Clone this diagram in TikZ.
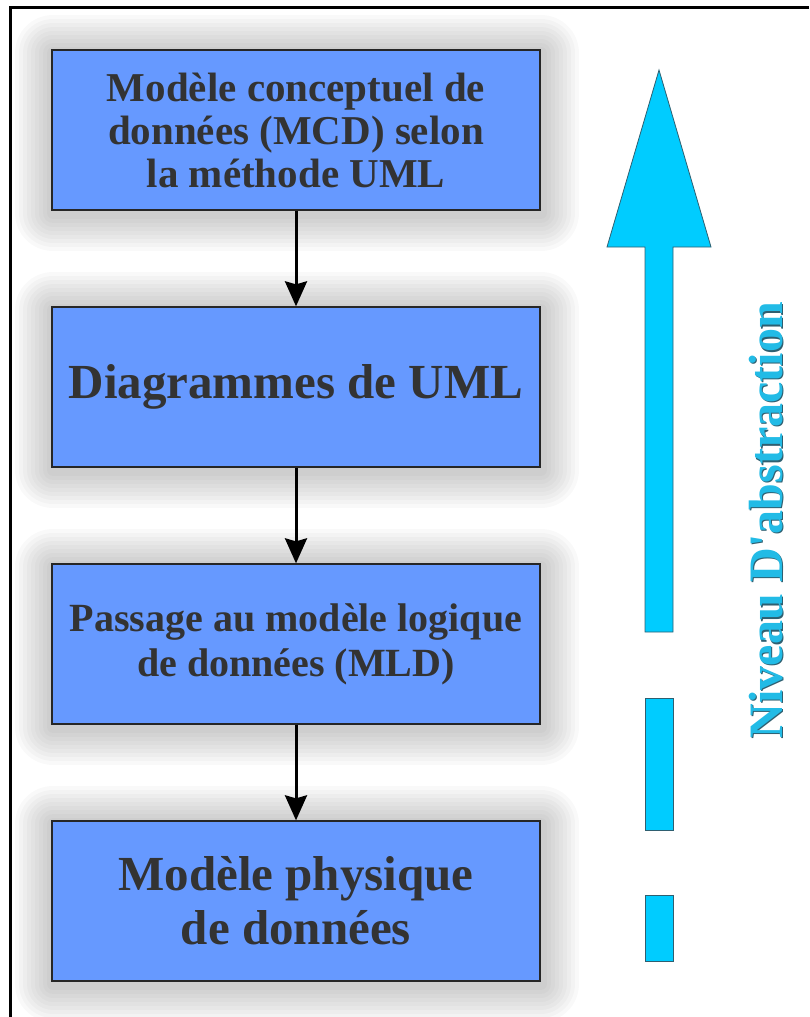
\documentclass[tikz,border=0pt]{standalone}
\usepackage{fontspec}
\setmainfont{Liberation Serif}
\usetikzlibrary{positioning,arrows.meta}
\definecolor{boxblue}{HTML}{6699FF}
\definecolor{txtgray}{HTML}{333333}
\definecolor{levelcyan}{HTML}{00CCFF}
\definecolor{leveltext}{HTML}{22BBE6}
\definecolor{levelline}{HTML}{2F5F70}
\begin{document}
\begin{tikzpicture}[x=1pt,y=-1pt,
                      halo/.style={preaction={draw=black,opacity=.022,line width=#1,line join=round,
                                   transform canvas={shift={(1pt,-3pt)}}}},
                      etape/.style={draw=black!85,line width=1.3pt,fill=boxblue,text=txtgray,
                                    minimum width=488pt,minimum height=160pt,inner sep=0pt,
                                    align=center,
                                    halo=76pt,halo=68pt,halo=60pt,halo=52pt,halo=44pt,
                                    halo=36pt,halo=28pt,halo=20pt,halo=12pt},
                      fleche/.style={-{Stealth[length=25pt,width=22pt,inset=3pt]},line width=3pt},
                      niveau/.style={fill=levelcyan,draw=levelline,line width=.8pt},
                      vertical/.style={rotate=90,anchor=base,font=\bfseries\fontsize{48}{52}\selectfont}]
   \useasboundingbox (0,0) rectangle (809,1017);
   \draw[line width=3pt] (809,7) -- (10,7) -- (10,1017);

   \node[etape,font=\bfseries\fontsize{41}{43}\selectfont] (mcd) at (296,130)
        {Modèle conceptuel de\\ données (MCD) selon\\ la méthode UML};
   \node[etape,below=95.7pt of mcd,font=\bfseries\fontsize{49}{56}\selectfont] (uml)
        {Diagrammes de UML};
   \node[etape,below=95.7pt of uml,font=\bfseries\fontsize{40}{45}\selectfont] (mld)
        {Passage au modèle logique\\ de données (MLD)};
   \node[etape,below=95.7pt of mld,font=\bfseries\fontsize{49}{54}\selectfont] (mpd)
        {Modèle physique\\ de données};

   \draw[fleche] (mcd) -- (uml);
   \draw[fleche] (uml) -- (mld);
   \draw[fleche] (mld) -- (mpd);

   % la fleche du niveau, puis ses tirets
   \draw[niveau] (645,632) -- (645,247) -- (607,247) -- (659,70)
                 -- (711,247) -- (673,247) -- (673,632) -- cycle;
   \foreach \ya/\yb in {698/830,895/961}
     \draw[niveau] (645,\ya) rectangle (673,\yb);

   \node[vertical,text=levelline] (niveauombre) at (783.5,521.5) {Niveau D\textquotesingle abstraction};
   \node[vertical,text=leveltext] (niveautexte) at (782,520) {Niveau D\textquotesingle abstraction};
\end{tikzpicture}
\end{document}
